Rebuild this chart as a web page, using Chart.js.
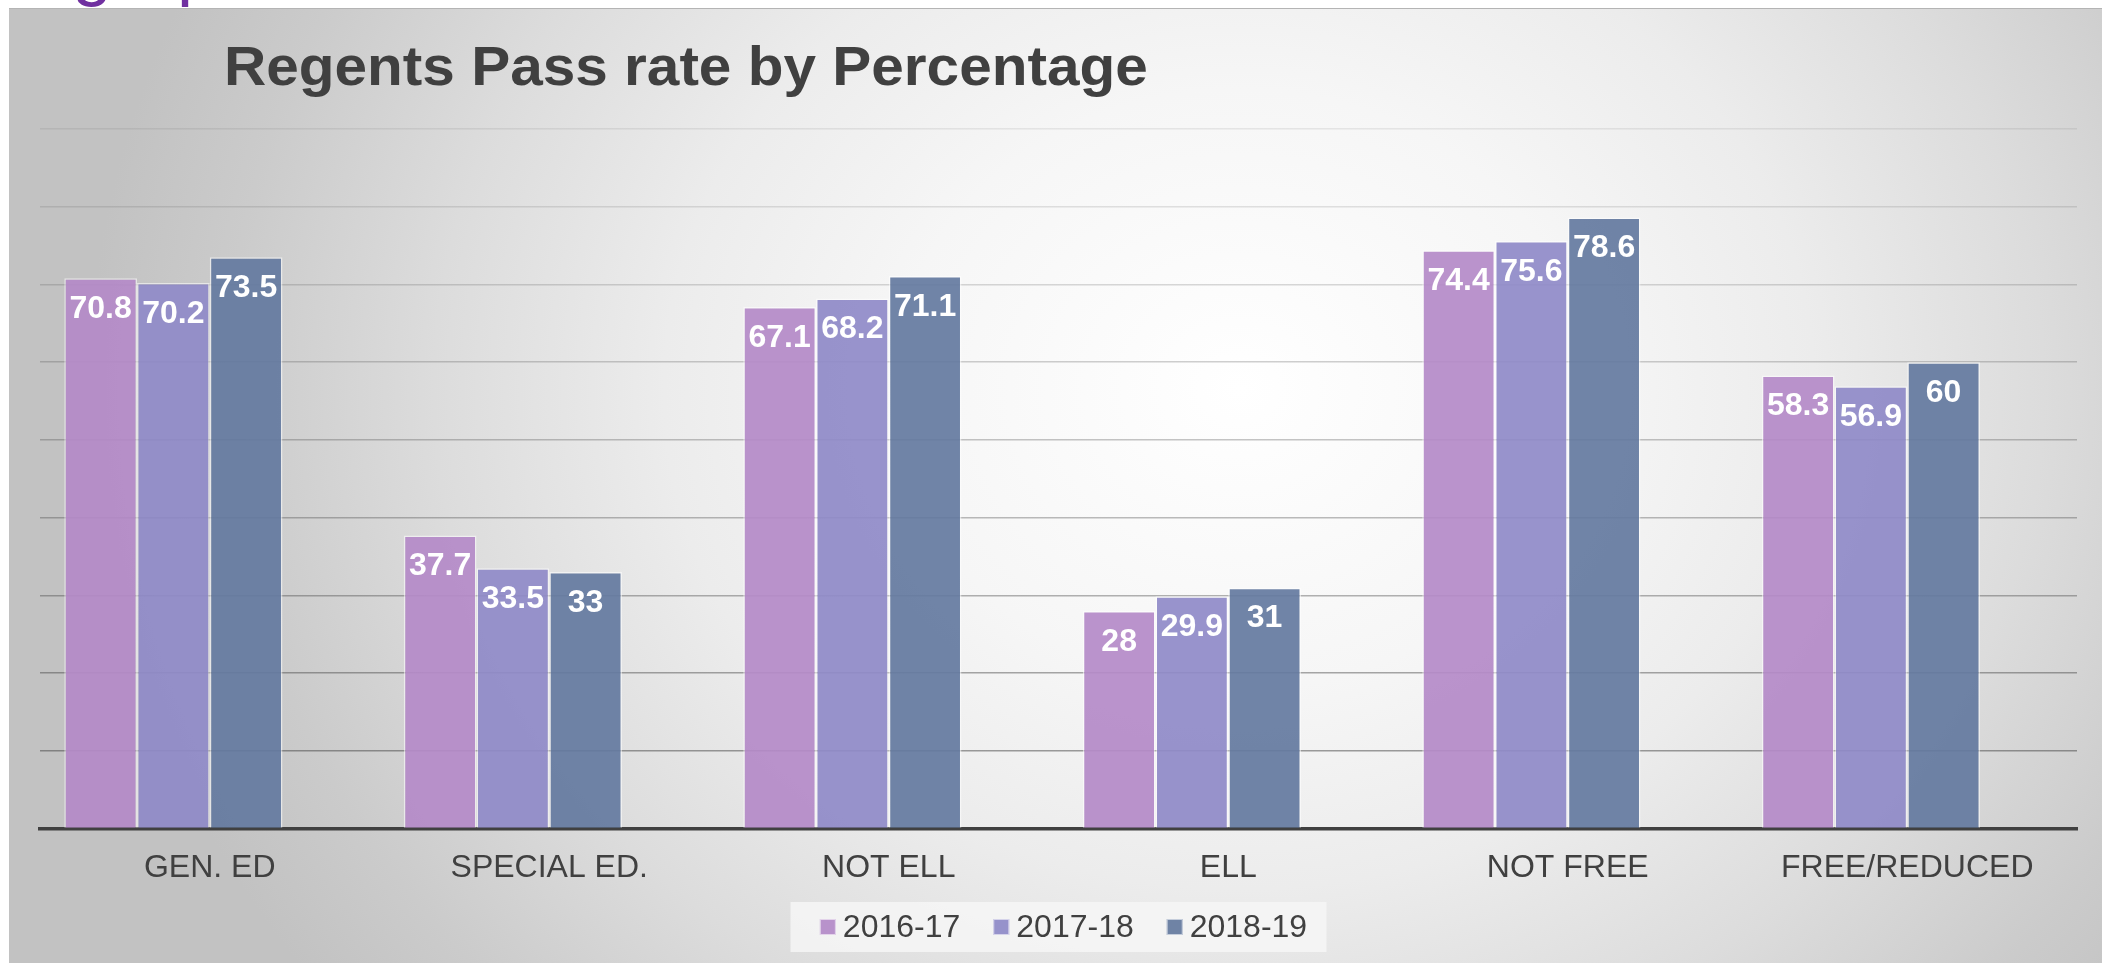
<!DOCTYPE html>
<html lang="en">
<head>
  <meta charset="UTF-8" />
  <meta name="viewport" content="width=device-width, initial-scale=1.0" />
  <title>Regents Pass rate by Percentage</title>
  <script src="https://cdn.jsdelivr.net/npm/chart.js"></script>
  <style>
    body {
      margin: 0;
      width: 2102px;
      height: 963px;
      overflow: hidden;
      position: relative;
      background: #ffffff;
      font-family: 'Liberation Sans', Arial, sans-serif;
    }
    .peek {
      position: absolute;
      top: -69px;
      font-size: 72px;
      line-height: 1;
      color: #7030a0;
    }
    #panel {
      position: absolute;
      left: 9px;
      top: 8px;
      right: 0;
      bottom: 0;
      border-top: 1px solid #b4b4b4;
      background: radial-gradient(ellipse 1150px 1000px at 1230px 380px,
        #ffffff 0%, #f6f6f6 30%, #ececec 50%, #dcdcdc 70%, #cbcbcb 88%, #c2c2c2 100%);
    }
    #title {
      position: absolute;
      left: 224px;
      top: 38px;
      font-size: 56px;
      font-weight: bold;
      line-height: 1;
      color: #404040;
      white-space: nowrap;
      transform: scaleX(1.045);
      transform-origin: left top;
    }
    canvas {
      position: absolute;
      left: 0;
      top: 0;
    }
  </style>
</head>
<body>

<span class="peek" style="left:72px;">g</span>
<span class="peek" style="left:177px;">p</span>
<div id="panel"></div>
<div id="title">Regents Pass rate by Percentage</div>
<canvas id="passChart" width="2102" height="963"></canvas>

<script>
  const categories = ['GEN. ED', 'SPECIAL ED.', 'NOT ELL', 'ELL', 'NOT FREE', 'FREE/REDUCED'];
  const seriesNames = ['2016-17', '2017-18', '2018-19'];
  const rate2016 = [70.8, 37.7, 67.1, 28, 74.4, 58.3];
  const rate2017 = [70.2, 33.5, 68.2, 29.9, 75.6, 56.9];
  const rate2018 = [73.5, 33, 71.1, 31, 78.6, 60];
  // the source chart keeps an empty 4th series, which is why each group sits left of its label
  const emptySeries = [null, null, null, null, null, null];
  const yMax = 90;
  const yStep = 10;

  const barColors = ['rgba(180,138,200,0.92)', 'rgba(143,138,200,0.92)', 'rgba(100,122,159,0.92)'];
  const legendColors = ['#b892cb', '#9692cb', '#6f83a5'];

  Chart.defaults.font.family = "'Liberation Sans', Arial, sans-serif";

  // white numbers just inside the top of every bar
  const valueLabels = {
    id: 'valueLabels',
    afterDatasetsDraw(chart) {
      const ctx = chart.ctx;
      ctx.save();
      ctx.font = 'bold 32px "Liberation Sans", Arial, sans-serif';
      ctx.fillStyle = '#ffffff';
      ctx.textAlign = 'center';
      ctx.textBaseline = 'middle';
      chart.data.datasets.forEach((ds, i) => {
        if (ds.hideInLegend) return;
        chart.getDatasetMeta(i).data.forEach((bar, j) => {
          const v = ds.data[j];
          if (v == null) return;
          ctx.fillText(String(v), bar.x, bar.y + 31);
        });
      });
      ctx.restore();
    }
  };

  // legend on a pale box under the axis labels
  const boxLegend = {
    id: 'boxLegend',
    afterDraw(chart) {
      const ctx = chart.ctx;
      const area = chart.chartArea;
      const mid = (area.left + area.right) / 2;
      ctx.save();
      ctx.fillStyle = 'rgba(246,246,246,0.85)';
      ctx.fillRect(mid - 268, 902, 536, 50);

      ctx.font = '32px "Liberation Sans", Arial, sans-serif';
      ctx.textBaseline = 'middle';
      ctx.textAlign = 'left';
      const items = chart.data.datasets.filter(d => !d.hideInLegend);
      const widths = items.map(d => 16 + 7 + ctx.measureText(d.label).width);
      const gap = 33;
      const total = widths.reduce((a, b) => a + b, 0) + gap * (items.length - 1);
      let x = mid + 5 - total / 2;
      const cy = 927;
      items.forEach((d, i) => {
        ctx.fillStyle = legendColors[i];
        ctx.fillRect(x, cy - 8, 16, 16);
        ctx.strokeStyle = 'rgba(255,255,255,0.6)';
        ctx.lineWidth = 1;
        ctx.strokeRect(x + 0.5, cy - 7.5, 15, 15);
        ctx.fillStyle = '#404040';
        ctx.fillText(d.label, x + 23, cy + 1);
        x += widths[i] + gap;
      });
      ctx.restore();
    }
  };

  const ctx = document.getElementById('passChart').getContext('2d');
  const passChart = new Chart(ctx, {
    type: 'bar',
    data: {
      labels: categories,
      datasets: [
        { label: seriesNames[0], data: rate2016, backgroundColor: barColors[0] },
        { label: seriesNames[1], data: rate2017, backgroundColor: barColors[1] },
        { label: seriesNames[2], data: rate2018, backgroundColor: barColors[2] },
        { label: '', data: emptySeries, backgroundColor: 'rgba(0,0,0,0)', hideInLegend: true }
      ].map(d => Object.assign(d, {
        borderColor: 'rgba(255,255,255,0.55)',
        borderWidth: 1.5,
        borderSkipped: 'bottom',
        barPercentage: 1.0,
        categoryPercentage: 0.857
      }))
    },
    options: {
      responsive: false,
      animation: false,
      layout: { padding: { top: 129, left: 40, right: 25, bottom: 56 } },
      plugins: {
        legend: { display: false },
        title: { display: false },
        tooltip: { enabled: false }
      },
      scales: {
        x: {
          grid: { display: false, drawTicks: false },
          border: { display: true, color: '#404040', width: 3.5 },
          ticks: { color: '#404040', font: { size: 32 }, padding: 20, maxRotation: 0, autoSkip: false }
        },
        y: {
          min: 0,
          max: yMax,
          ticks: { display: false, stepSize: yStep },
          border: { display: false },
          grid: {
            drawTicks: false,
            lineWidth: 1.5,
            color: c => {
              const v = c.tick ? c.tick.value : 0;
              if (v === 0) return 'rgba(0,0,0,0)';
              return 'rgba(64,64,64,' + (0.55 - v * 0.005).toFixed(3) + ')';
            }
          }
        }
      }
    },
    plugins: [valueLabels, boxLegend]
  });
</script>

</body>
</html>
